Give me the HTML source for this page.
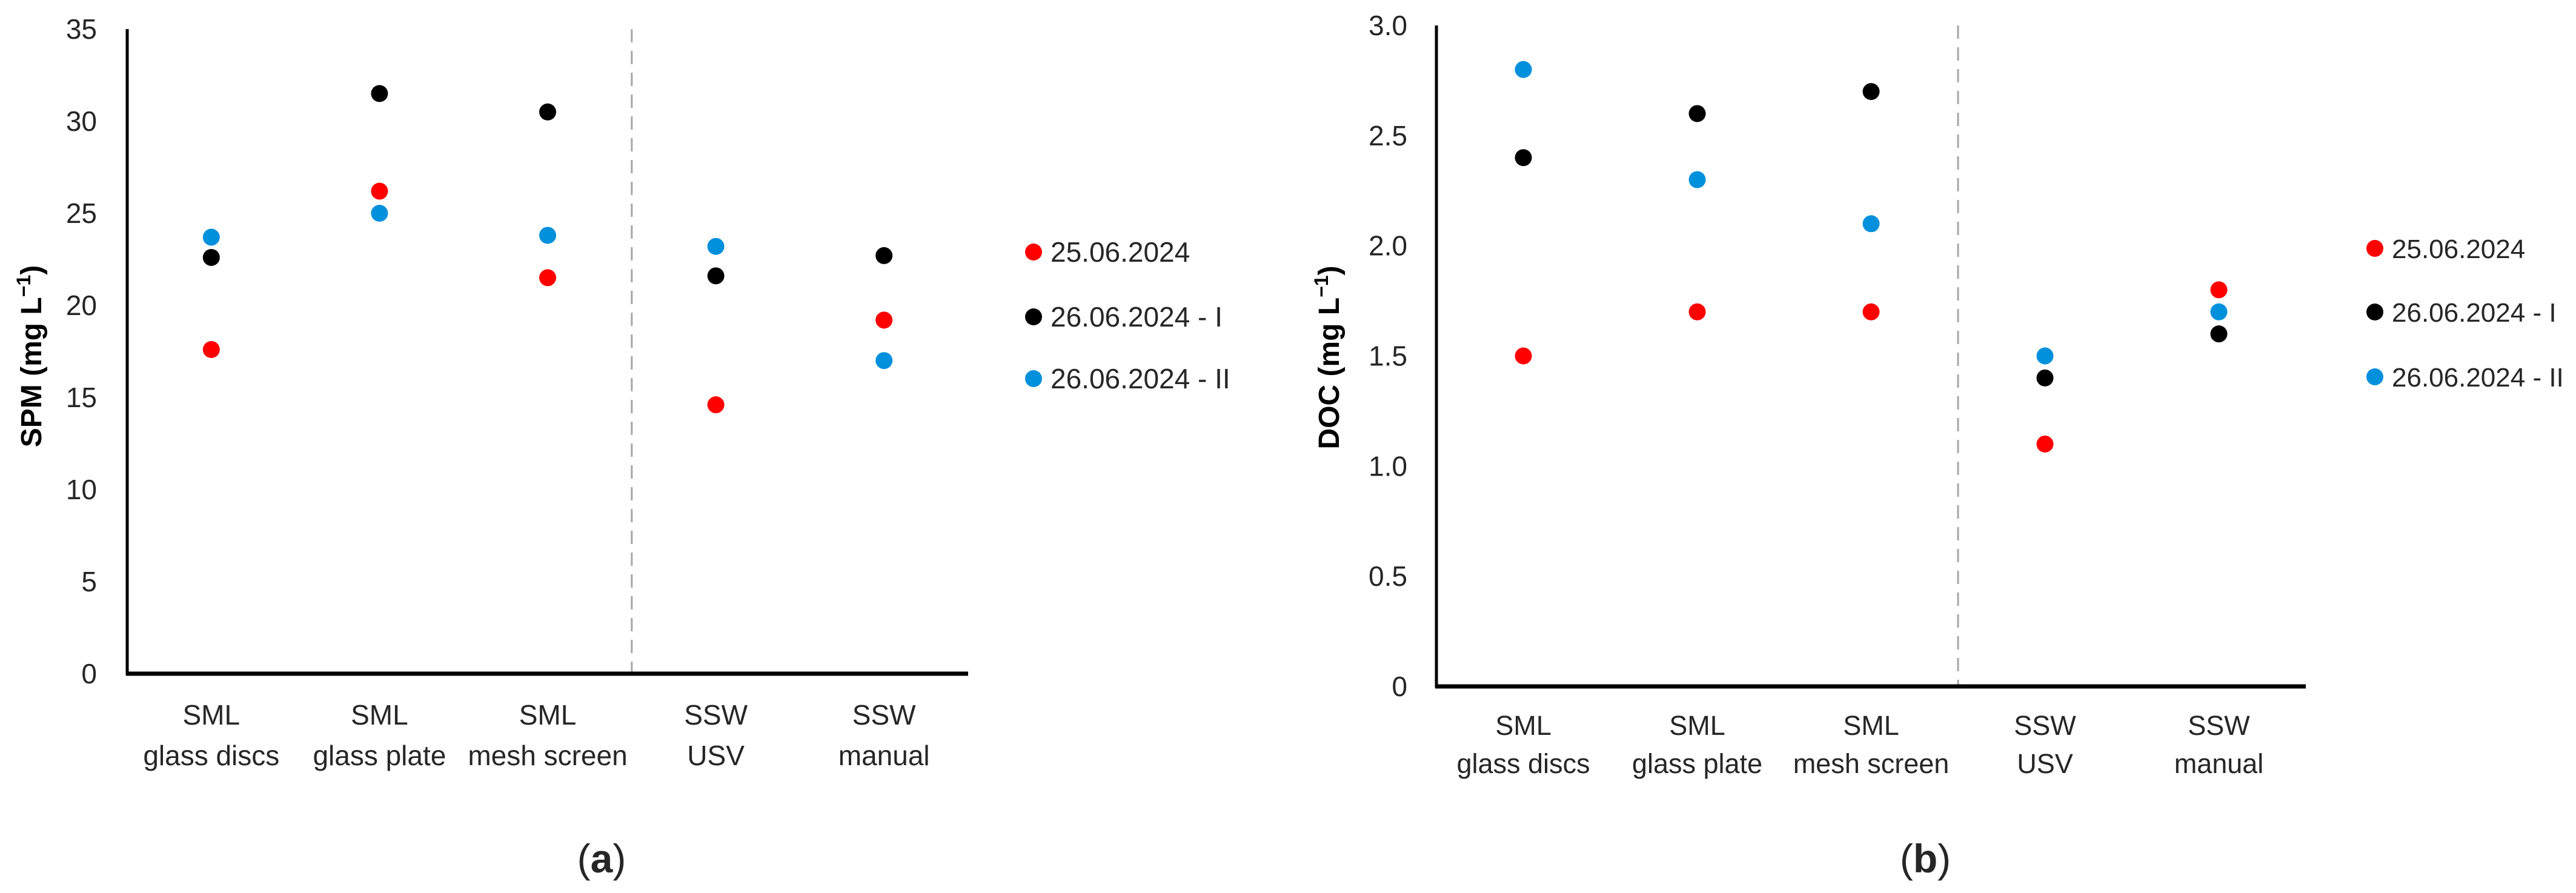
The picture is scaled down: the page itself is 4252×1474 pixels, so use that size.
<!DOCTYPE html>
<html><head><meta charset="utf-8"><style>
html,body{margin:0;padding:0;background:#fff;}
svg{display:block;}
text{font-family:"Liberation Sans",sans-serif;fill:#262626;}
</style></head><body>
<svg id="fig" width="4252" height="1474" viewBox="0 0 4252 1474" xmlns="http://www.w3.org/2000/svg">
</svg>
<script>
const categories = ["SML|glass discs","SML|glass plate","SML|mesh screen","SSW|USV","SSW|manual"];
const seriesNames = ["25.06.2024","26.06.2024 - I","26.06.2024 - II"];
const spmRed = [17.6, 26.2, 21.5, 14.6, 19.2];
const spmBlack = [22.6, 31.5, 30.5, 21.6, 22.7];
const spmBlue = [23.7, 25.0, 23.8, 23.2, 17.0];
const docRed = [1.5, 1.7, 1.7, 1.1, 1.8];
const docBlack = [2.4, 2.6, 2.7, 1.4, 1.6];
const docBlue = [2.8, 2.3, 2.1, 1.5, 1.7];
const spmTicks = [0,5,10,15,20,25,30,35];
const docTicks = ["0","0.5","1.0","1.5","2.0","2.5","3.0"];

const NS="http://www.w3.org/2000/svg";
const svg=document.getElementById('fig');
const colors=["#ff0000","#000000","#0090dc"];
function mk(tag,attrs,parent,text){const e=document.createElementNS(NS,tag);for(const k in attrs)e.setAttribute(k,attrs[k]);if(text!==undefined)e.textContent=text;(parent||svg).appendChild(e);return e;}

function chart(cfg){
  const g=mk('g',{});
  
  
  const yS=v=>cfg.y0-(v/cfg.ymax)*(cfg.y0-cfg.yTop);
  const bw=(cfg.x1-cfg.x0)/categories.length;
  const xS=i=>cfg.x0+bw*(i+0.5);
  const dv=mk('line',{x1:cfg.x0+bw*3,x2:cfg.x0+bw*3,y1:cfg.yTop,y2:cfg.y0,stroke:'#a6a6a6','stroke-width':3,'stroke-dasharray':'22,14'},g);
  
  
  const ya=mk('line',{x1:cfg.x0,x2:cfg.x0,y1:cfg.yTop,y2:cfg.y0+2,stroke:'#000','stroke-width':5},g);
  
  
  const xa=mk('line',{x1:cfg.x0-2,x2:cfg.x1,y1:cfg.y0,y2:cfg.y0,stroke:'#000','stroke-width':7},g);
  
  
  cfg.ticks.forEach(t=>{
    const tx=mk('text',{x:cfg.tickX,y:yS(parseFloat(t))+16,'text-anchor':'end','font-size':46},g,String(t));
    
    
  });
  const tt=mk('text',{x:0,y:0,transform:`translate(${cfg.titleX},${cfg.titleY}) rotate(-90)`,'text-anchor':'middle','font-size':48,'font-weight':'bold',fill:'#000'},g);
  
  
  tt.style.fill='#000';
  mk('tspan',{},tt,cfg.title+' (mg L');
  mk('tspan',{dy:-18,'font-size':32},tt,'−1');
  mk('tspan',{dy:18},tt,')');
  categories.forEach((c,i)=>{
    const [a,b]=c.split('|');
    const t1=mk('text',{x:xS(i),y:cfg.lab1,'text-anchor':'middle','font-size':cfg.labFs},g,a);
    
    
    const t2=mk('text',{x:xS(i),y:cfg.lab2,'text-anchor':'middle','font-size':cfg.labFs},g,b);
    
    
  });
  cfg.series.forEach((arr,s)=>{
    arr.forEach((v,i)=>{
      const c=mk('circle',{cx:xS(i),cy:yS(v),r:14,fill:colors[s]},g);
      
      
    });
  });
  seriesNames.forEach((n,s)=>{
    const y=cfg.legY[s];
    const lc=mk('circle',{cx:cfg.legX,cy:y,r:14,fill:colors[s]},g);
    
    
    const lt=mk('text',{x:cfg.legX+28,y:y+16,'font-size':cfg.legFs},g,n);
    
    
  });
  const cap=mk('text',{x:cfg.capX,y:1440,'text-anchor':'middle','font-size':66,'font-family':'"Liberation Serif",serif',fill:'#000'},g);
  
  
  mk('tspan',{},cap,'(');
  mk('tspan',{'font-weight':'bold'},cap,cfg.cap);
  mk('tspan',{},cap,')');
}

chart({name:'spm-chart',x0:210,x1:1598,y0:1112,yTop:48,ymax:35,ticks:spmTicks,tickX:160,title:'SPM',titleX:68,titleY:588,
  lab1:1196,lab2:1263,labFs:46,series:[spmRed,spmBlack,spmBlue],legX:1706,legY:[416,523,625],legFs:46,capX:993,cap:'a'});
chart({name:'doc-chart',x0:2371,x1:3806,y0:1133,yTop:42,ymax:3.0,ticks:docTicks,tickX:2323,title:'DOC',titleX:2210,titleY:590,
  lab1:1213,lab2:1276,labFs:45,series:[docRed,docBlack,docBlue],legX:3920,legY:[410,515,622],legFs:44,capX:3178,cap:'b'});
</script>
</body></html>
